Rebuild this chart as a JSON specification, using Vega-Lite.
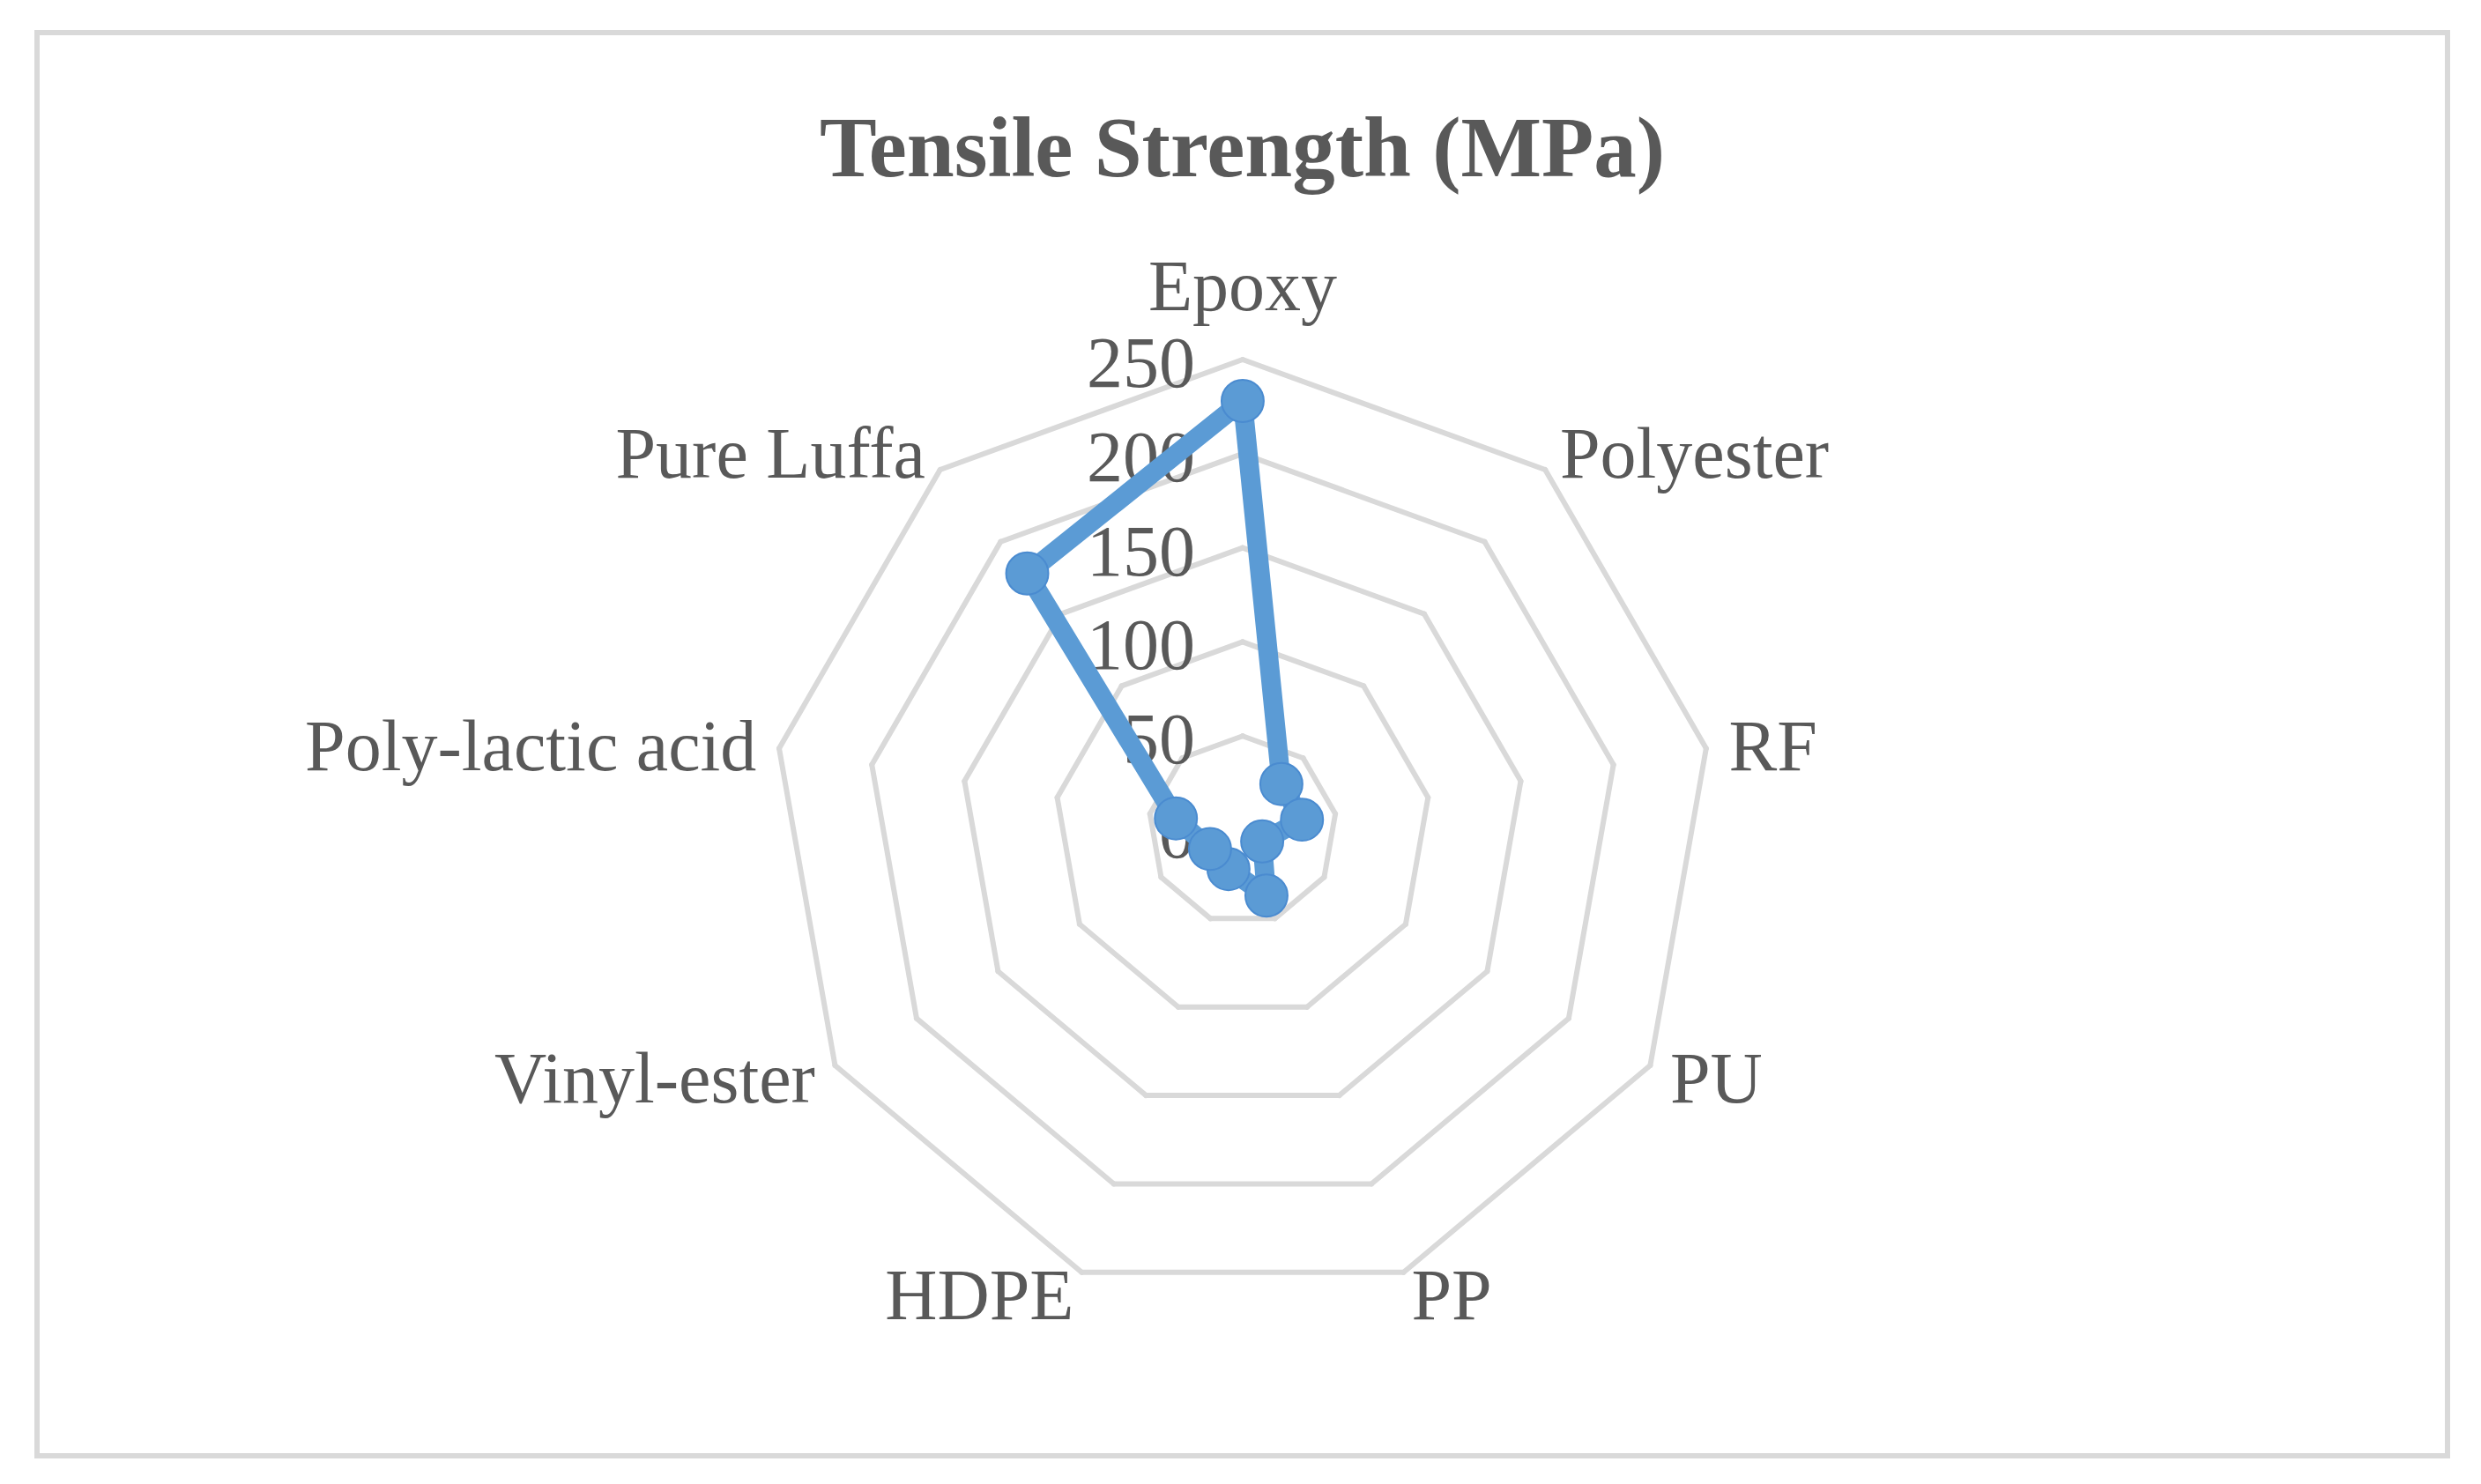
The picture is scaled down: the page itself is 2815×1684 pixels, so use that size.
{
  "$schema": "https://vega.github.io/schema/vega-lite/v6.json",
  "width": 2735,
  "height": 1615,
  "autosize": {"type": "none"},
  "padding": {"left": 42, "top": 37, "right": 38, "bottom": 32},
  "background": "white",
  "config": {
    "view": {"stroke": "#d9d9d9", "strokeWidth": 6},
    "text": {"font": "Liberation Serif", "fontSize": 82, "color": "#595959"}
  },
  "title": {
    "text": "Tensile Strength (MPa)",
    "font": "Liberation Serif",
    "fontSize": 97,
    "fontWeight": "bold",
    "color": "#595959",
    "anchor": "middle",
    "baseline": "alphabetic",
    "offset": -260
  },
  "datasets": {
    "materials": [
      {"material": "Epoxy", "k": 0, "value": 228},
      {"material": "Polyester", "k": 1, "value": 32},
      {"material": "RF", "k": 2, "value": 32},
      {"material": "PU", "k": 3, "value": 12},
      {"material": "PP", "k": 4, "value": 37},
      {"material": "HDPE", "k": 5, "value": 22},
      {"material": "Vinyl-ester", "k": 6, "value": 20},
      {"material": "Poly-lactic acid", "k": 7, "value": 36},
      {"material": "Pure Luffa", "k": 8, "value": 178}
    ],
    "grid": [
      {"level": 50, "k": [0, 1, 2, 3, 4, 5, 6, 7, 8]},
      {"level": 100, "k": [0, 1, 2, 3, 4, 5, 6, 7, 8]},
      {"level": 150, "k": [0, 1, 2, 3, 4, 5, 6, 7, 8]},
      {"level": 200, "k": [0, 1, 2, 3, 4, 5, 6, 7, 8]},
      {"level": 250, "k": [0, 1, 2, 3, 4, 5, 6, 7, 8]}
    ],
    "ticks": [
      {"tick": 0}, {"tick": 50}, {"tick": 100}, {"tick": 150}, {"tick": 200}, {"tick": 250}
    ]
  },
  "layer": [
    {
      "data": {"name": "grid"},
      "transform": [
        {"flatten": ["k"]},
        {"calculate": "datum.k * 2 * PI / 9", "as": "a1"},
        {"calculate": "(datum.k + 1) * 2 * PI / 9", "as": "a2"},
        {"calculate": "datum.level * sin(datum.a1)", "as": "gx"},
        {"calculate": "datum.level * cos(datum.a1)", "as": "gy"},
        {"calculate": "datum.level * sin(datum.a2)", "as": "gx2"},
        {"calculate": "datum.level * cos(datum.a2)", "as": "gy2"}
      ],
      "mark": {"type": "rule", "color": "#d9d9d9", "strokeWidth": 6, "strokeCap": "round"},
      "encoding": {
        "x": {"field": "gx", "type": "quantitative", "scale": {"domain": [-640.4, 640.0], "nice": false, "zero": false}, "axis": null},
        "y": {"field": "gy", "type": "quantitative", "scale": {"domain": [-332.4, 423.7], "nice": false, "zero": false}, "axis": null},
        "x2": {"field": "gx2"},
        "y2": {"field": "gy2"}
      }
    },
    {
      "data": {"name": "ticks"},
      "mark": {"type": "text", "align": "right", "baseline": "middle", "dx": -54, "dy": 6},
      "encoding": {
        "x": {"datum": 0, "type": "quantitative"},
        "y": {"field": "tick", "type": "quantitative"},
        "text": {"field": "tick", "type": "quantitative"}
      }
    },
    {
      "data": {"name": "materials"},
      "transform": [
        {"calculate": "datum.k * 2 * PI / 9", "as": "ang"},
        {"calculate": "datum.value * sin(datum.ang)", "as": "px"},
        {"calculate": "datum.value * cos(datum.ang)", "as": "py"},
        {"window": [
          {"op": "lead", "field": "px", "as": "nx"},
          {"op": "lead", "field": "py", "as": "ny"},
          {"op": "first_value", "field": "px", "as": "fx"},
          {"op": "first_value", "field": "py", "as": "fy"}
        ], "sort": [{"field": "k", "order": "ascending"}], "frame": [null, null]},
        {"calculate": "datum.nx == null ? datum.fx : datum.nx", "as": "qx"},
        {"calculate": "datum.ny == null ? datum.fy : datum.ny", "as": "qy"}
      ],
      "layer": [
        {
          "mark": {"type": "rule", "color": "#5b9bd5", "strokeWidth": 22, "strokeCap": "round"},
          "encoding": {
            "x": {"field": "px", "type": "quantitative"},
            "y": {"field": "py", "type": "quantitative"},
            "x2": {"field": "qx"},
            "y2": {"field": "qy"}
          }
        },
        {
          "mark": {"type": "point", "shape": "circle", "filled": true, "size": 2300, "fill": "#5b9bd5", "stroke": "#4a8bd0", "strokeWidth": 2, "opacity": 1},
          "encoding": {
            "x": {"field": "px", "type": "quantitative"},
            "y": {"field": "py", "type": "quantitative"}
          }
        }
      ]
    },
    {
      "data": {"name": "materials"},
      "transform": [
        {"calculate": "datum.k * 2 * PI / 9", "as": "ang"},
        {"calculate": "262.2 * sin(datum.ang)", "as": "lx"},
        {"calculate": "262.2 * cos(datum.ang)", "as": "ly"}
      ],
      "layer": [
        {
          "transform": [{"filter": "datum.k == 0"}],
          "mark": {"type": "text", "align": "center", "baseline": "alphabetic", "dy": -30},
          "encoding": {
            "x": {"field": "lx", "type": "quantitative"},
            "y": {"field": "ly", "type": "quantitative"},
            "text": {"field": "material"}
          }
        },
        {
          "transform": [{"filter": "datum.k >= 1 && datum.k <= 4"}],
          "mark": {"type": "text", "align": "left", "baseline": "middle", "dy": 4},
          "encoding": {
            "x": {"field": "lx", "type": "quantitative"},
            "y": {"field": "ly", "type": "quantitative"},
            "text": {"field": "material"}
          }
        },
        {
          "transform": [{"filter": "datum.k >= 5"}],
          "mark": {"type": "text", "align": "right", "baseline": "middle", "dy": 4},
          "encoding": {
            "x": {"field": "lx", "type": "quantitative"},
            "y": {"field": "ly", "type": "quantitative"},
            "text": {"field": "material"}
          }
        }
      ]
    }
  ]
}
